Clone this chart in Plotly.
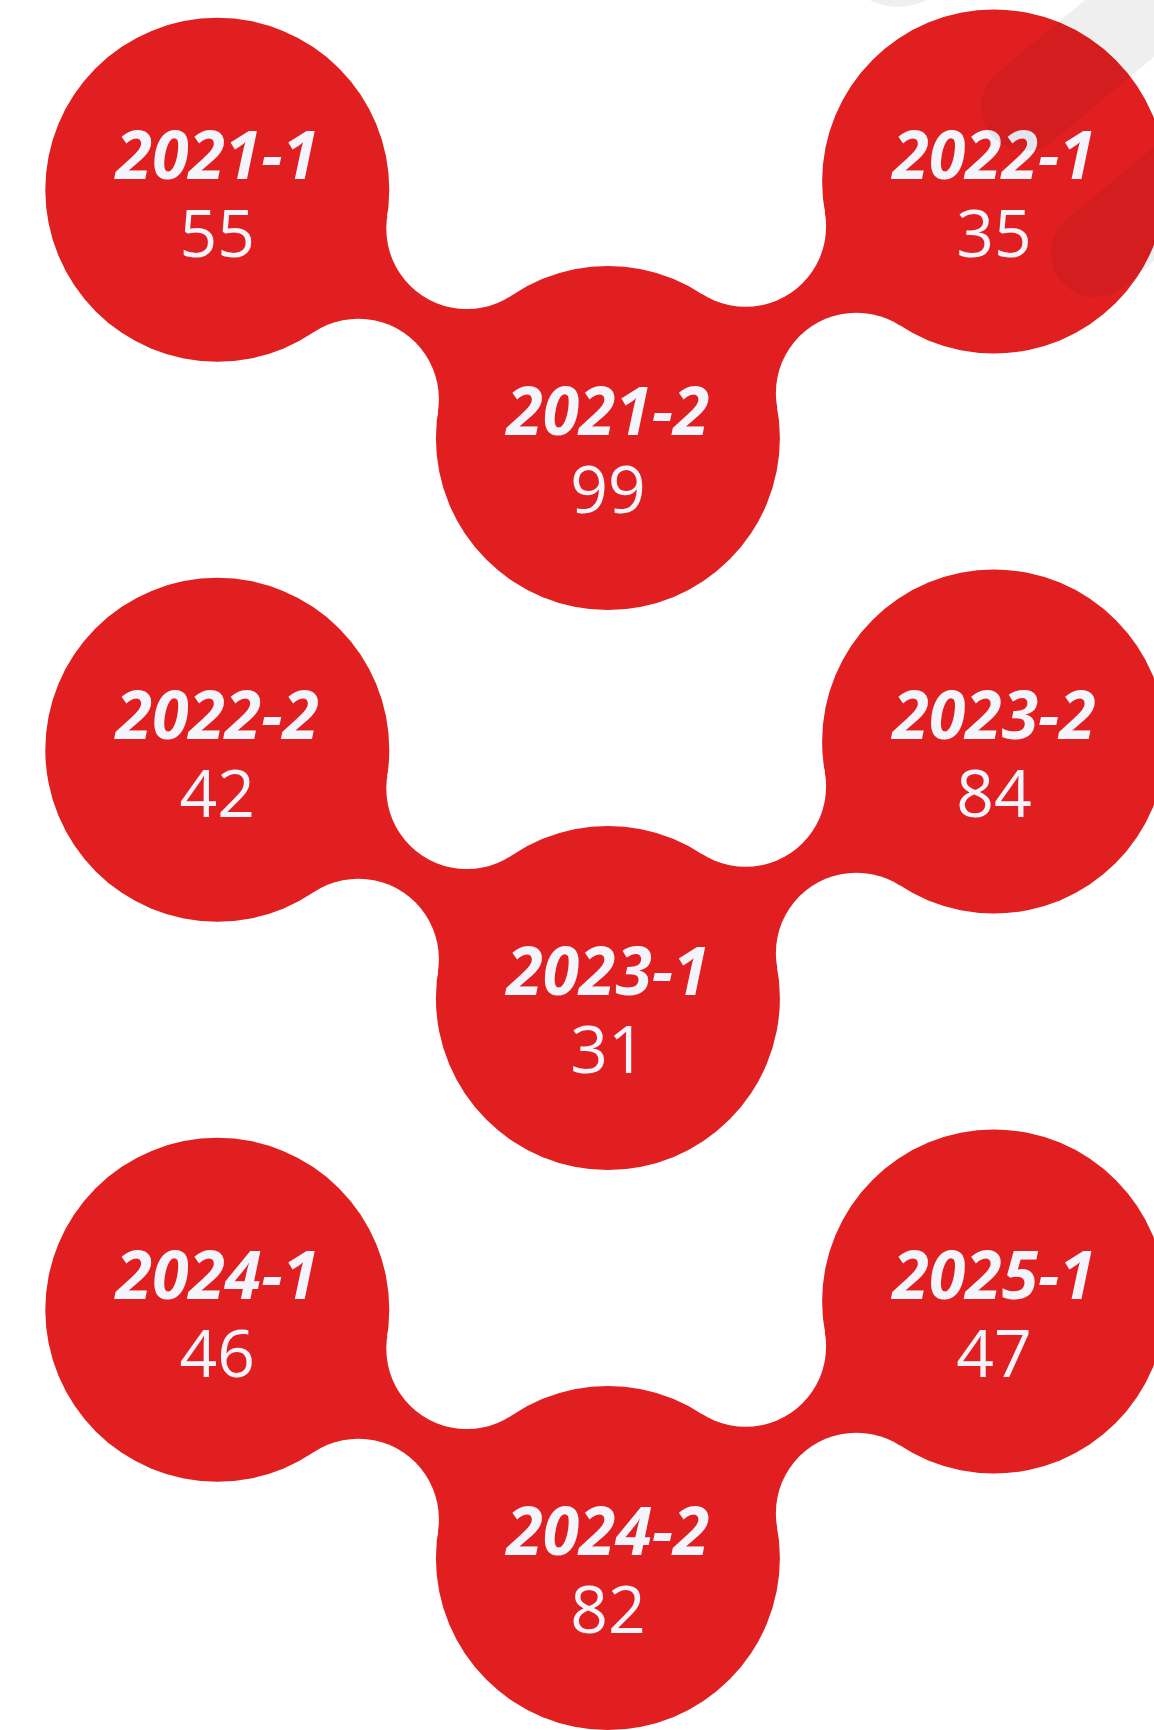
import numpy as np
import plotly.graph_objects as go

# half-year periods and their counts (left, middle, right per row)
periods = ["2021-1", "2021-2", "2022-1", "2022-2", "2023-1", "2023-2", "2024-1", "2024-2", "2025-1"]
counts = [55, 99, 35, 42, 31, 84, 46, 82, 47]

W, H = 1154, 1730
RED = "#e21f20"
TXT = "#f3f4fc"
SHADE = "rgba(0,0,0,0.063)"

# layout of the blob chain (pixel units, y grows downwards)
R = 172          # big circle radius
r = 80.5         # radius of the white fillets between circles
col_x = [217.3, 607.9, 994.1]
col_dy = [0, 248.2, -8.3]
row_y0 = 189.8
row_step = 560
txt_dy = [13, 21, 21]   # centre of the two-line label relative to the circle centre

centers = []
for i in range(len(periods)):
    row, col = divmod(i, 3)
    centers.append((col_x[col], row_y0 + row * row_step + col_dy[col]))


def fillets(a, b):
    # centres of the two circles of radius r tangent to both big circles
    a, b = np.array(a), np.array(b)
    d = b - a
    dist = np.hypot(*d)
    mid = (a + b) / 2
    h = np.sqrt((R + r) ** 2 - (dist / 2) ** 2)
    perp = np.array([-d[1], d[0]]) / dist
    return mid - h * perp, mid + h * perp


def circle(cx, cy, rad, color, layer="below"):
    return dict(type="circle", xref="x", yref="y", x0=cx - rad, x1=cx + rad,
                y0=cy - rad, y1=cy + rad, fillcolor=color, line=dict(width=0), layer=layer)


def capsule(c, u, hw, length):
    c, u = np.array(c, float), np.array(u, float)
    u = u / np.hypot(*u)
    n = np.array([-u[1], u[0]])
    t = np.linspace(0, np.pi, 40)
    pts = [c + hw * (np.cos(k) * n - np.sin(k) * u) for k in t]
    pts += [c - hw * n + length * u, c + hw * n + length * u]
    return "M " + " L ".join(f"{p[0]:.1f},{p[1]:.1f}" for p in pts) + " Z"


shapes = [circle(cx, cy, R, RED) for cx, cy in centers]
holes = []
for row in range(3):
    for j in (0, 1):
        a, b = centers[row * 3 + j], centers[row * 3 + j + 1]
        n1, n2 = fillets(a, b)
        shapes.append(dict(type="path", xref="x", yref="y", layer="below",
                           path=f"M {a[0]},{a[1]} L {n1[0]},{n1[1]} L {b[0]},{b[1]} L {n2[0]},{n2[1]} Z",
                           fillcolor=RED, line=dict(width=0)))
        holes += [circle(n1[0], n1[1], r, "white"), circle(n2[0], n2[1], r, "white")]
shapes += holes

# faint decorative bands in the top right corner, drawn over everything
shapes.append(dict(type="path", xref="x", yref="y", layer="above", fillcolor=SHADE,
                   line=dict(width=0), path=capsule((1025, 107), (0.77, -0.64), 44, 500)))
shapes.append(dict(type="path", xref="x", yref="y", layer="above", fillcolor=SHADE,
                   line=dict(width=0), path=capsule((1095, 253), (0.77, -0.64), 44, 500)))
shapes.append(circle(898, -54, 61, SHADE, layer="above"))

txt_x = [c[0] for c in centers]
txt_y = [c[1] + txt_dy[i % 3] for i, c in enumerate(centers)]
labels = [f'<span style="font-size:66px"><b><i>{p}</i></b></span><br>'
          f'<span style="font-size:66px">{v}</span>' for p, v in zip(periods, counts)]

fig = go.Figure()
fig.add_trace(go.Scatter(x=txt_x, y=txt_y, mode="text", text=labels, hoverinfo="skip",
                         textfont=dict(family="Open Sans", size=60, color=TXT)))

fig.update_layout(width=W, height=H, margin=dict(l=0, r=0, t=0, b=0),
                  paper_bgcolor="white", plot_bgcolor="white", showlegend=False,
                  xaxis=dict(range=[0, W], visible=False, fixedrange=True),
                  yaxis=dict(range=[H, 0], visible=False, fixedrange=True),
                  shapes=shapes)
fig.write_html("out.html", config={"displayModeBar": False},
               post_script="document.body.style.margin='0px';")
